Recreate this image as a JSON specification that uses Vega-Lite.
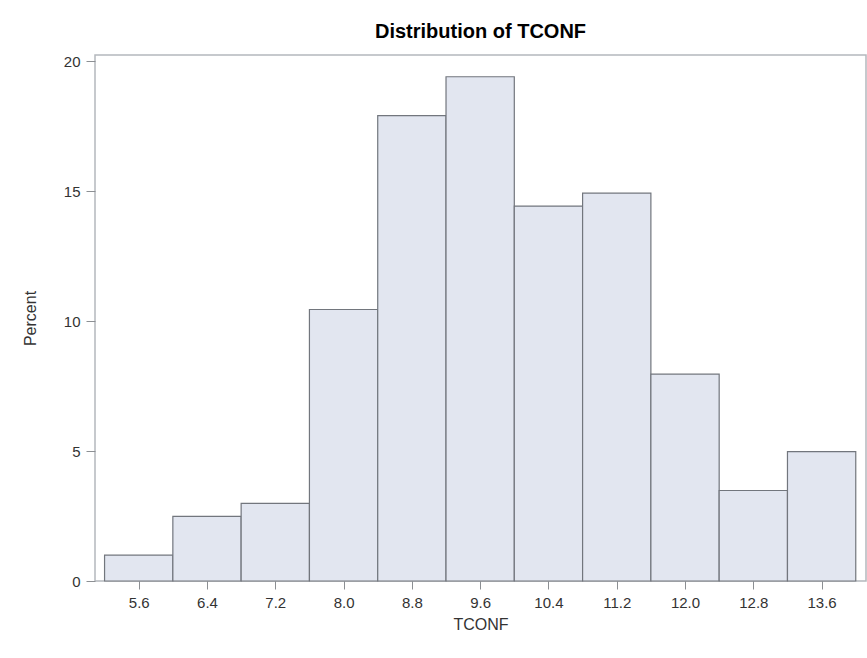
{
  "$schema": "https://vega.github.io/schema/vega-lite/v6.json",
  "width": 771,
  "height": 526,
  "autosize": {"type": "none"},
  "padding": {"left": 95, "top": 55, "right": 1, "bottom": 77},
  "background": "white",
  "title": {
    "text": "Distribution of TCONF",
    "font": "Liberation Sans",
    "fontSize": 20,
    "fontWeight": "bold",
    "color": "#000000",
    "anchor": "middle",
    "offset": 12
  },
  "data": {
    "values": [
      {"bin_start": 5.2, "bin_end": 6.0, "percent": 0.995},
      {"bin_start": 6.0, "bin_end": 6.8, "percent": 2.488},
      {"bin_start": 6.8, "bin_end": 7.6, "percent": 2.985},
      {"bin_start": 7.6, "bin_end": 8.4, "percent": 10.448},
      {"bin_start": 8.4, "bin_end": 9.2, "percent": 17.910},
      {"bin_start": 9.2, "bin_end": 10.0, "percent": 19.403},
      {"bin_start": 10.0, "bin_end": 10.8, "percent": 14.428},
      {"bin_start": 10.8, "bin_end": 11.6, "percent": 14.925},
      {"bin_start": 11.6, "bin_end": 12.4, "percent": 7.960},
      {"bin_start": 12.4, "bin_end": 13.2, "percent": 3.483},
      {"bin_start": 13.2, "bin_end": 14.0, "percent": 4.975}
    ]
  },
  "mark": {
    "type": "rect",
    "fill": "#e2e6f0",
    "stroke": "#72767d",
    "strokeWidth": 1.2
  },
  "encoding": {
    "x": {
      "field": "bin_start",
      "type": "quantitative",
      "scale": {"domain": [5.088, 14.12], "nice": false, "zero": false},
      "axis": {
        "title": "TCONF",
        "values": [5.6, 6.4, 7.2, 8.0, 8.8, 9.6, 10.4, 11.2, 12.0, 12.8, 13.6],
        "format": ".1f",
        "grid": false,
        "domain": false,
        "tickSize": 8,
        "labelPadding": 6,
        "titlePadding": 6
      }
    },
    "x2": {"field": "bin_end"},
    "y": {
      "field": "percent",
      "type": "quantitative",
      "scale": {"domain": [0, 20.24], "nice": false},
      "axis": {
        "title": "Percent",
        "values": [0, 5, 10, 15, 20],
        "grid": false,
        "domain": false,
        "tickSize": 9,
        "labelPadding": 6,
        "titlePadding": 25
      }
    },
    "y2": {"datum": 0}
  },
  "config": {
    "view": {"stroke": "#b4b8bd", "strokeWidth": 1.5},
    "axis": {
      "labelFont": "Liberation Sans",
      "labelFontSize": 15,
      "labelColor": "#333333",
      "titleFont": "Liberation Sans",
      "titleFontSize": 16,
      "titleFontWeight": "normal",
      "titleColor": "#333333",
      "tickColor": "#8c8f93",
      "tickWidth": 1
    }
  }
}
